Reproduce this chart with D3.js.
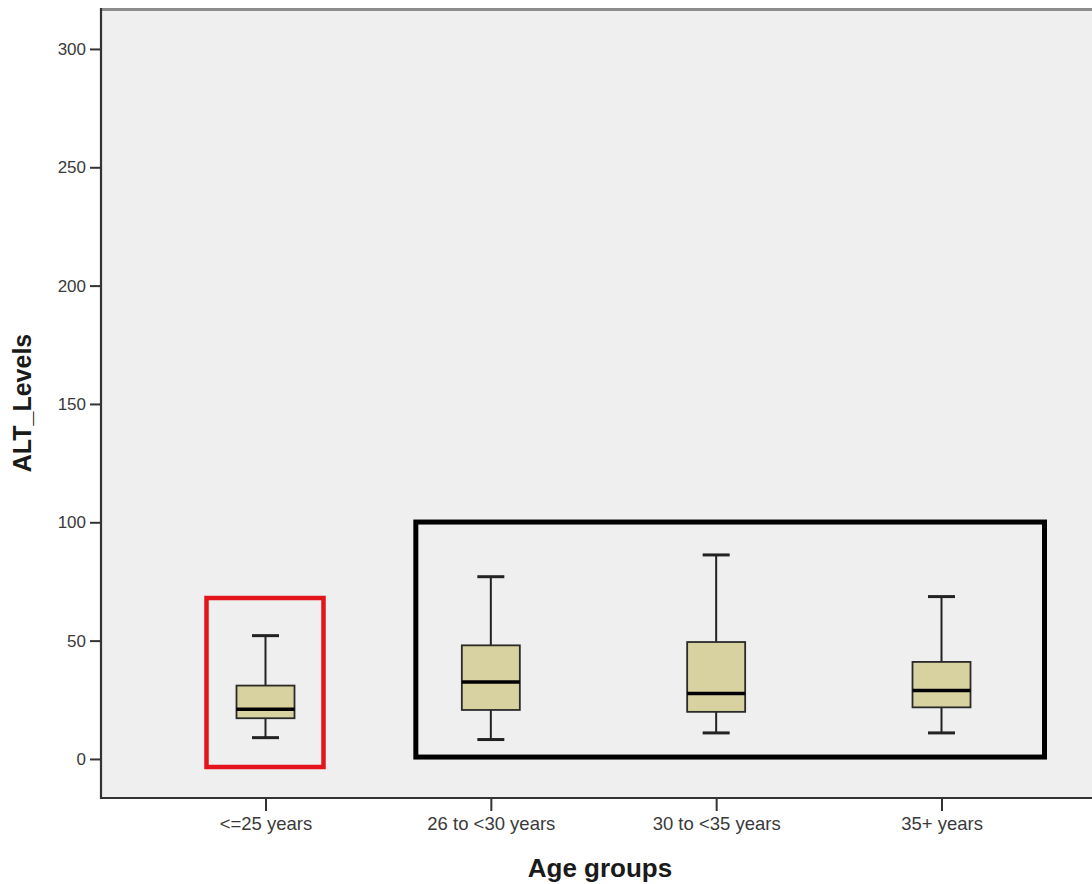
<!DOCTYPE html>
<html>
<head>
<meta charset="utf-8">
<script src="https://cdn.jsdelivr.net/npm/d3@7"></script>
<style>
  html, body { margin: 0; padding: 0; background: #ffffff; }
  svg { display: block; }
</style>
</head>
<body>
<svg id="chart" width="1092" height="884"></svg>
<script>
// ---- data ----
const categories = ["<=25 years", "26 to <30 years", "30 to <35 years", "35+ years"];
const whiskerLow  = [9.0, 8.2, 11.0, 11.0];
const q1          = [17.2, 20.7, 19.9, 21.8];
const medians     = [21.0, 32.5, 27.7, 28.9];
const q3          = [31.0, 48.0, 49.4, 41.0];
const whiskerHigh = [52.1, 77.0, 86.2, 68.6];
const yTicks = [0, 50, 100, 150, 200, 250, 300];
const yTitle = "ALT_Levels";
const xTitle = "Age groups";
// highlight frames: categories spanned and value range
const frameRedCats = ["<=25 years", "<=25 years"];
const frameRedRange = [-3.4, 68];
const frameBlackCats = ["26 to <30 years", "35+ years"];
const frameBlackRange = [0.8, 100.1];

// ---- layout ----
const svg = d3.select("#chart");
const plot = { left: 101, right: 1106, top: 8, bottom: 798 };

const x = d3.scalePoint().domain(categories)
  .range([plot.left, plot.right]).padding(0.73);
const y = d3.scaleLinear().domain([-16.5, 317.3]).range([plot.bottom, plot.top]);

// background
svg.append("rect")
  .attr("x", plot.left).attr("y", plot.top)
  .attr("width", plot.right - plot.left).attr("height", plot.bottom - plot.top)
  .attr("fill", "#efefef");

// top border
svg.append("line")
  .attr("x1", plot.left).attr("x2", 1092)
  .attr("y1", plot.top + 1.5).attr("y2", plot.top + 1.5)
  .attr("stroke", "#8c8c8c").attr("stroke-width", 3);

// y axis
const yAxis = d3.axisLeft(y).tickValues(yTicks).tickSize(11).tickPadding(4).tickFormat(d3.format("d"));
const gy = svg.append("g").attr("transform", `translate(${plot.left},0)`).call(yAxis);
gy.select(".domain").remove();
gy.selectAll(".tick line").attr("stroke", "#333").attr("stroke-width", 2);
gy.selectAll(".tick text")
  .attr("font-family", "Liberation Sans, Arial, sans-serif")
  .attr("font-size", 17).attr("fill", "#3a3a3a");

svg.append("line")
  .attr("x1", plot.left).attr("x2", plot.left)
  .attr("y1", plot.top).attr("y2", plot.bottom + 1)
  .attr("stroke", "#333").attr("stroke-width", 2.2);

// x axis
const xAxis = d3.axisBottom(x).tickSize(13).tickPadding(6);
const gx = svg.append("g").attr("transform", `translate(0,${plot.bottom})`).call(xAxis);
gx.select(".domain").remove();
gx.selectAll(".tick line").attr("stroke", "#333").attr("stroke-width", 2);
gx.selectAll(".tick text")
  .attr("font-family", "Liberation Sans, Arial, sans-serif")
  .attr("font-size", 18.5).attr("fill", "#3a3a3a");

svg.append("line")
  .attr("x1", plot.left).attr("x2", 1092)
  .attr("y1", plot.bottom).attr("y2", plot.bottom)
  .attr("stroke", "#333").attr("stroke-width", 2.2);

// axis titles
svg.append("text")
  .attr("transform", `translate(31,${(plot.top + plot.bottom) / 2}) rotate(-90)`)
  .attr("text-anchor", "middle")
  .attr("font-family", "Liberation Sans, Arial, sans-serif")
  .attr("font-weight", "bold").attr("font-size", 25).attr("fill", "#1a1a1a")
  .text(yTitle);
svg.append("text")
  .attr("x", 600).attr("y", 877)
  .attr("text-anchor", "middle")
  .attr("font-family", "Liberation Sans, Arial, sans-serif")
  .attr("font-weight", "bold").attr("font-size", 26).attr("fill", "#1a1a1a")
  .text(xTitle);

// boxes
const boxW = 58, capW = 27;
const rows = categories.map((c, i) => ({ c, lo: whiskerLow[i], q1: q1[i], med: medians[i], q3: q3[i], hi: whiskerHigh[i] }));
const g = svg.append("g").selectAll("g").data(rows).join("g");

g.append("line")
  .attr("x1", d => x(d.c)).attr("x2", d => x(d.c))
  .attr("y1", d => y(d.hi)).attr("y2", d => y(d.q3))
  .attr("stroke", "#222").attr("stroke-width", 2);
g.append("line")
  .attr("x1", d => x(d.c)).attr("x2", d => x(d.c))
  .attr("y1", d => y(d.q1)).attr("y2", d => y(d.lo))
  .attr("stroke", "#222").attr("stroke-width", 2);
g.append("line")
  .attr("x1", d => x(d.c) - capW / 2).attr("x2", d => x(d.c) + capW / 2)
  .attr("y1", d => y(d.hi)).attr("y2", d => y(d.hi))
  .attr("stroke", "#222").attr("stroke-width", 3);
g.append("line")
  .attr("x1", d => x(d.c) - capW / 2).attr("x2", d => x(d.c) + capW / 2)
  .attr("y1", d => y(d.lo)).attr("y2", d => y(d.lo))
  .attr("stroke", "#222").attr("stroke-width", 3);
g.append("rect")
  .attr("x", d => x(d.c) - boxW / 2).attr("width", boxW)
  .attr("y", d => y(d.q3)).attr("height", d => y(d.q1) - y(d.q3))
  .attr("fill", "#d8d2a0").attr("stroke", "#2a2a2a").attr("stroke-width", 1.8);
g.append("line")
  .attr("x1", d => x(d.c) - boxW / 2).attr("x2", d => x(d.c) + boxW / 2)
  .attr("y1", d => y(d.med)).attr("y2", d => y(d.med))
  .attr("stroke", "#000").attr("stroke-width", 3.5);

// highlight frames
function frame(cats, range, padL, padR, color, width) {
  const x0 = x(cats[0]) - padL, x1 = x(cats[1]) + padR;
  svg.append("rect")
    .attr("x", x0).attr("y", y(range[1]))
    .attr("width", x1 - x0).attr("height", y(range[0]) - y(range[1]))
    .attr("fill", "none").attr("stroke", color).attr("stroke-width", width);
}
frame(frameRedCats, frameRedRange, 59, 58, "#e3141c", 4.5);
frame(frameBlackCats, frameBlackRange, 75, 103, "#000000", 5);
</script>
</body>
</html>
